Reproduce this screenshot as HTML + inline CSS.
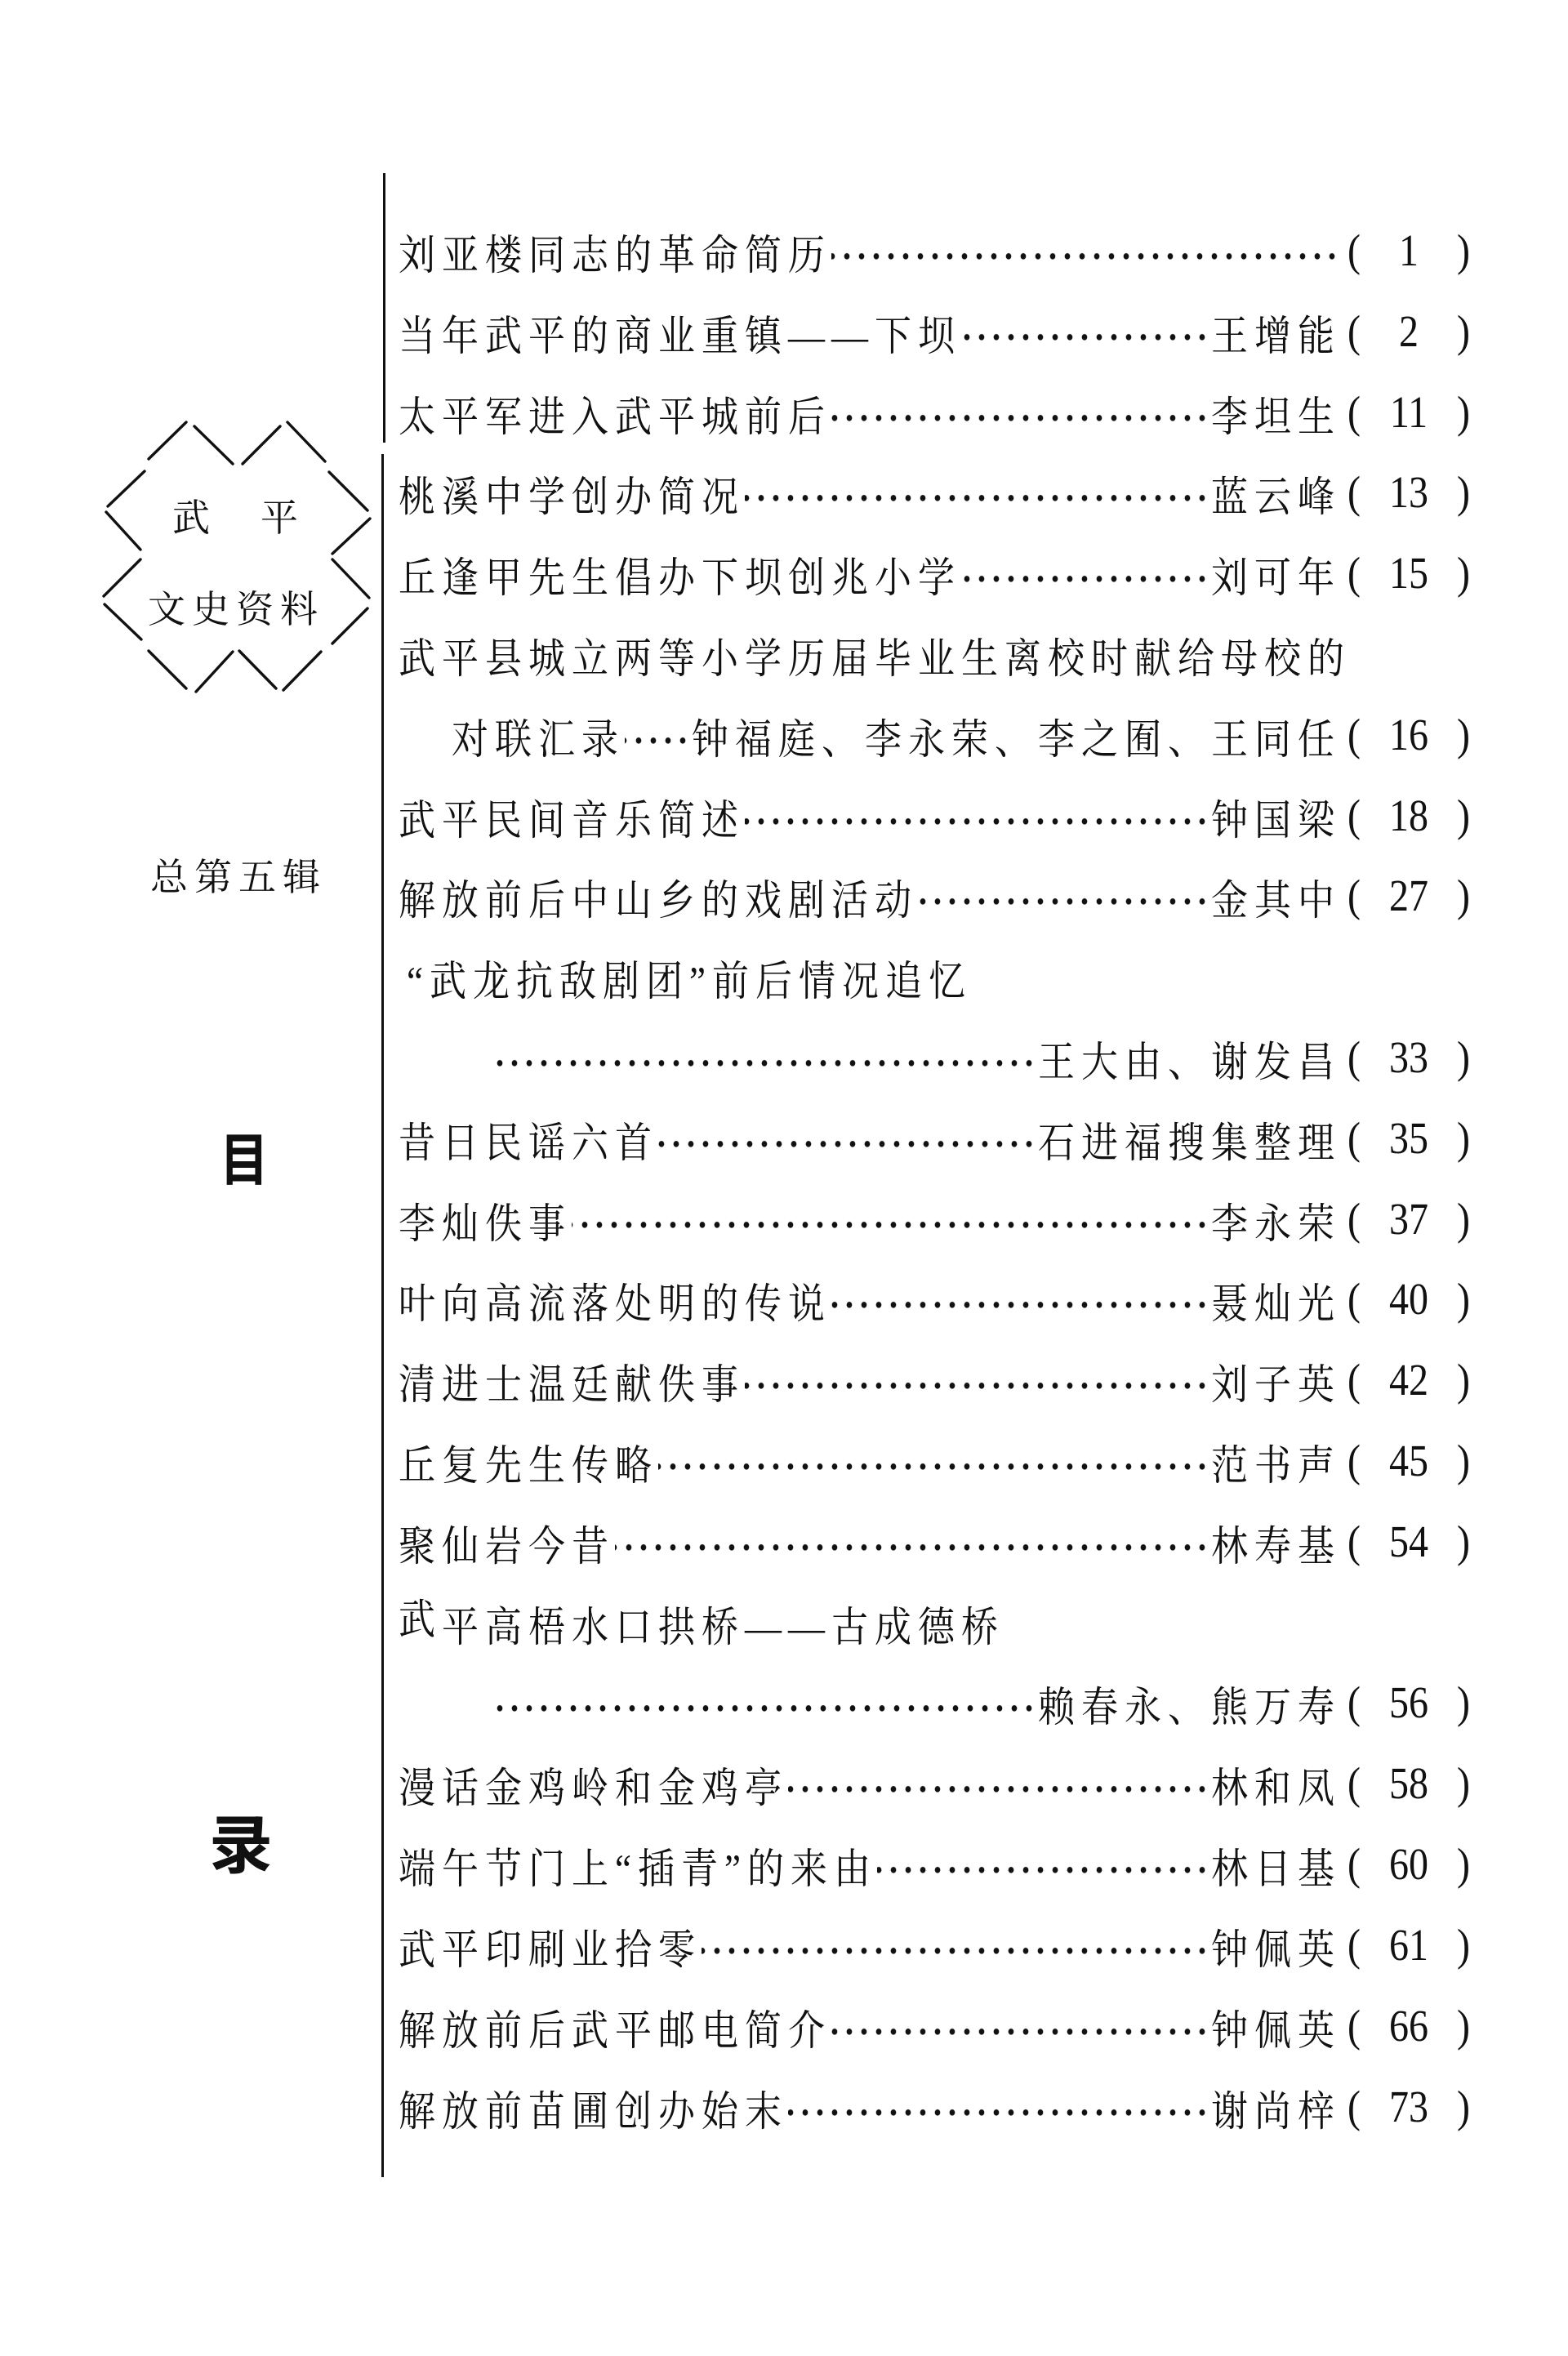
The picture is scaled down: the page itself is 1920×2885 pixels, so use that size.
<!DOCTYPE html>
<html><head><meta charset="utf-8">
<style>
html,body{margin:0;padding:0;background:#fff;}
body{width:1920px;height:2885px;position:relative;overflow:hidden;font-family:"Liberation Serif","Noto Serif CJK SC","Noto Sans CJK SC",serif;color:#111;}
.row{position:absolute;left:488px;width:1312px;height:60px;display:flex;align-items:center;font-size:45px;letter-spacing:8px;white-space:nowrap;transform:scaleY(1.14);}
.dots{flex:1;height:10px;margin:0 2px 0 0;background-image:radial-gradient(circle,#111 3px,transparent 3.6px);background-size:18px 10px;background-repeat:repeat-x;background-position:right center;align-self:center;position:relative;top:6px;}
.num{width:150px;display:flex;justify-content:space-between;align-items:center;font-family:"Liberation Serif",serif;letter-spacing:0;font-size:48px;margin-left:8px;}
.num b{font-weight:normal;}
.vl{position:absolute;background:#111;width:3px;}
.side{position:absolute;font-family:"Liberation Serif","Noto Serif CJK SC",serif;}
</style></head><body>
<div class="vl" style="left:469px;top:212px;height:330px;"></div>
<div class="vl" style="left:467px;top:556px;height:2110px;"></div>

<svg style="position:absolute;left:0;top:0" width="480" height="900">
<g stroke="#111" stroke-width="3.4" fill="none" stroke-linecap="round">
<line x1="182" y1="562" x2="228" y2="517"/><line x1="238" y1="522" x2="285" y2="568"/>
<line x1="297" y1="568" x2="343" y2="522"/><line x1="352" y1="517" x2="398" y2="565"/>
<line x1="403" y1="578" x2="450" y2="625"/><line x1="453" y1="635" x2="407" y2="678"/>
<line x1="407" y1="685" x2="452" y2="732"/><line x1="450" y1="745" x2="407" y2="788"/>
<line x1="393" y1="798" x2="347" y2="845"/><line x1="338" y1="843" x2="293" y2="797"/>
<line x1="285" y1="798" x2="240" y2="847"/><line x1="228" y1="843" x2="182" y2="797"/>
<line x1="172" y1="673" x2="130" y2="627"/><line x1="132" y1="620" x2="177" y2="577"/>
<line x1="172" y1="685" x2="127" y2="730"/><line x1="128" y1="740" x2="173" y2="783"/>
</g></svg>
<div class="side" style="left:211px;top:598px;font-size:46px;">武</div>
<div class="side" style="left:319px;top:598px;font-size:46px;">平</div>
<div class="side" style="left:181px;top:710px;font-size:46px;letter-spacing:8px;">文史资料</div>
<div class="side" style="left:184px;top:1038px;font-size:46px;letter-spacing:8px;">总第五辑</div>
<div class="side" style="left:264px;top:1374px;font-size:70px;font-weight:bold;font-family:'Noto Sans CJK SC',sans-serif;transform:scaleX(0.85);line-height:84px;">目</div>
<div class="side" style="left:256px;top:2210px;font-size:78px;font-weight:bold;font-family:'Noto Sans CJK SC',sans-serif;line-height:88px;">录</div>

<div class="row" style="top:277px"><span>刘亚楼同志的革命简历</span><span class="dots"></span><span class="num"><b>(</b><b>1</b><b>)</b></span></div>
<div class="row" style="top:376px"><span>当年武平的商业重镇——下坝</span><span class="dots"></span><span>王增能</span><span class="num"><b>(</b><b>2</b><b>)</b></span></div>
<div class="row" style="top:475px"><span>太平军进入武平城前后</span><span class="dots"></span><span>李坦生</span><span class="num"><b>(</b><b>11</b><b>)</b></span></div>
<div class="row" style="top:573px"><span>桃溪中学创办简况</span><span class="dots"></span><span>蓝云峰</span><span class="num"><b>(</b><b>13</b><b>)</b></span></div>
<div class="row" style="top:672px"><span>丘逢甲先生倡办下坝创兆小学</span><span class="dots"></span><span>刘可年</span><span class="num"><b>(</b><b>15</b><b>)</b></span></div>
<div class="row" style="top:771px"><span>武平县城立两等小学历届毕业生离校时献给母校的</span></div>
<div class="row" style="top:870px;padding-left:65px;width:1247px"><span>对联汇录</span><span class="dots"></span><span>钟福庭、李永荣、李之囿、王同任</span><span class="num"><b>(</b><b>16</b><b>)</b></span></div>
<div class="row" style="top:969px"><span>武平民间音乐简述</span><span class="dots"></span><span>钟国梁</span><span class="num"><b>(</b><b>18</b><b>)</b></span></div>
<div class="row" style="top:1067px"><span>解放前后中山乡的戏剧活动</span><span class="dots"></span><span>金其中</span><span class="num"><b>(</b><b>27</b><b>)</b></span></div>
<div class="row" style="top:1166px;padding-left:10px;width:1302px"><span>“武龙抗敌剧团”前后情况追忆</span></div>
<div class="row" style="top:1265px;padding-left:118px;width:1194px"><span class="dots"></span><span>王大由、谢发昌</span><span class="num"><b>(</b><b>33</b><b>)</b></span></div>
<div class="row" style="top:1364px"><span>昔日民谣六首</span><span class="dots"></span><span>石进福搜集整理</span><span class="num"><b>(</b><b>35</b><b>)</b></span></div>
<div class="row" style="top:1463px"><span>李灿佚事</span><span class="dots"></span><span>李永荣</span><span class="num"><b>(</b><b>37</b><b>)</b></span></div>
<div class="row" style="top:1561px"><span>叶向高流落处明的传说</span><span class="dots"></span><span>聂灿光</span><span class="num"><b>(</b><b>40</b><b>)</b></span></div>
<div class="row" style="top:1660px"><span>清进士温廷献佚事</span><span class="dots"></span><span>刘子英</span><span class="num"><b>(</b><b>42</b><b>)</b></span></div>
<div class="row" style="top:1759px"><span>丘复先生传略</span><span class="dots"></span><span>范书声</span><span class="num"><b>(</b><b>45</b><b>)</b></span></div>
<div class="row" style="top:1858px"><span>聚仙岩今昔</span><span class="dots"></span><span>林寿基</span><span class="num"><b>(</b><b>54</b><b>)</b></span></div>
<div class="row" style="top:1957px"><span><span style="position:relative;top:-8px">武</span>平高梧水口拱桥——古成德桥</span></div>
<div class="row" style="top:2055px;padding-left:118px;width:1194px"><span class="dots"></span><span>赖春永、熊万寿</span><span class="num"><b>(</b><b>56</b><b>)</b></span></div>
<div class="row" style="top:2154px"><span>漫话金鸡岭和金鸡亭</span><span class="dots"></span><span>林和凤</span><span class="num"><b>(</b><b>58</b><b>)</b></span></div>
<div class="row" style="top:2253px"><span>端午节门上“插青”的来由</span><span class="dots"></span><span>林日基</span><span class="num"><b>(</b><b>60</b><b>)</b></span></div>
<div class="row" style="top:2352px"><span>武平印刷业拾零</span><span class="dots"></span><span>钟佩英</span><span class="num"><b>(</b><b>61</b><b>)</b></span></div>
<div class="row" style="top:2451px"><span>解放前后武平邮电简介</span><span class="dots"></span><span>钟佩英</span><span class="num"><b>(</b><b>66</b><b>)</b></span></div>
<div class="row" style="top:2550px"><span>解放前苗圃创办始末</span><span class="dots"></span><span>谢尚梓</span><span class="num"><b>(</b><b>73</b><b>)</b></span></div>
</body></html>
